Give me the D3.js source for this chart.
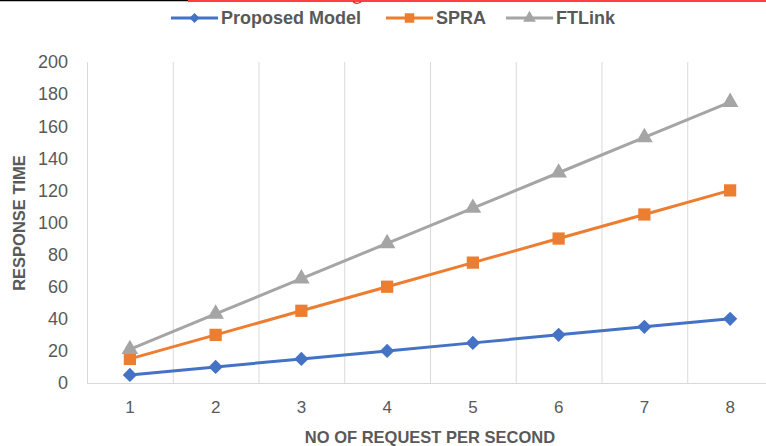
<!DOCTYPE html>
<html lang="en">
<head>
  <meta charset="UTF-8">
  <title>Response Time</title>
  <script src="https://d3js.org/d3.v7.min.js"></script>
  <style>
    html, body { margin: 0; padding: 0; background: #fff; }
    svg { display: block; font-family: "Liberation Sans", Arial, sans-serif; }
  </style>
</head>
<body>
  <svg width="766" height="446"></svg>
  <script>
    // chart values
    const categories = [1, 2, 3, 4, 5, 6, 7, 8];
    const proposedModel = [5, 10, 15, 20, 25, 30, 35, 40];
    const spra = [15, 30, 45, 60, 75, 90, 105, 120];
    const ftlink = [21, 43, 65, 87, 109, 131, 153, 175];
    const yTicks = [0, 20, 40, 60, 80, 100, 120, 140, 160, 180, 200];

    const diamond = d3.symbolDiamond2 || d3.symbolDiamond;
    const series = [
      { name: "Proposed Model", values: proposedModel, color: "#4472C4", marker: diamond, size: 130, legendSize: 65 },
      { name: "SPRA", values: spra, color: "#ED7D31", marker: d3.symbolSquare, size: 150, legendSize: 90 },
      { name: "FTLink", values: ftlink, color: "#A5A5A5", marker: d3.symbolTriangle, size: 120, legendSize: 70 }
    ];

    const svg = d3.select("svg");
    const textColor = "#595959";
    const gridColor = "#d9d9d9";

    // plot runs past the right edge of the picture, as in the original crop
    const x = d3.scaleBand().domain(categories).range([87, 773]).paddingInner(0).paddingOuter(0);
    const cx = d => x(d) + x.bandwidth() / 2;
    const y = d3.scaleLinear().domain([0, 200]).range([383, 62]);

    // page rules at top
    svg.append("line").attr("x1", 0).attr("x2", 188).attr("y1", 0.5).attr("y2", 0.5)
      .attr("stroke", "#000").attr("stroke-width", 1.5);
    svg.append("line").attr("x1", 188).attr("x2", 766).attr("y1", 1).attr("y2", 1)
      .attr("stroke", "#ff0000").attr("stroke-width", 1.6);
    svg.append("path").attr("d", "M353,1.5 Q356,5 361,2").attr("fill", "none")
      .attr("stroke", "#e02020").attr("stroke-width", 1.2);

    // vertical gridlines between categories
    svg.append("g").selectAll("line")
      .data(categories.slice(1))
      .enter().append("line")
      .attr("x1", d => x(d) + 0.5).attr("x2", d => x(d) + 0.5)
      .attr("y1", y(200)).attr("y2", y(0))
      .attr("stroke", gridColor).attr("stroke-width", 1);

    // axis lines
    svg.append("line").attr("x1", 87.5).attr("x2", 87.5).attr("y1", y(200)).attr("y2", y(0))
      .attr("stroke", gridColor);
    svg.append("line").attr("x1", 87).attr("x2", 773).attr("y1", y(0) + 0.5).attr("y2", y(0) + 0.5)
      .attr("stroke", gridColor);

    // y tick labels
    svg.append("g").selectAll("text")
      .data(yTicks)
      .enter().append("text")
      .attr("x", 68).attr("y", d => y(d))
      .attr("dy", "0.35em").attr("text-anchor", "end")
      .attr("font-size", 18).attr("fill", textColor)
      .text(d => d);

    // x tick labels
    svg.append("g").selectAll("text")
      .data(categories)
      .enter().append("text")
      .attr("x", cx).attr("y", 407)
      .attr("dy", "0.35em").attr("text-anchor", "middle")
      .attr("font-size", 17).attr("fill", textColor)
      .text(d => d);

    // axis titles
    svg.append("text")
      .attr("x", 430).attr("y", 437).attr("dy", "0.35em")
      .attr("text-anchor", "middle").attr("font-size", 16.5).attr("font-weight", "bold")
      .attr("fill", textColor)
      .text("NO OF REQUEST PER SECOND");
    svg.append("text")
      .attr("transform", "translate(19,223) rotate(-90)")
      .attr("dy", "0.35em")
      .attr("text-anchor", "middle").attr("font-size", 16.5).attr("font-weight", "bold")
      .attr("fill", textColor)
      .text("RESPONSE TIME");

    // series lines and markers
    const line = d3.line().x((v, i) => cx(categories[i])).y(v => y(v));
    series.forEach(s => {
      svg.append("path")
        .attr("d", line(s.values))
        .attr("fill", "none").attr("stroke", s.color)
        .attr("stroke-width", 3).attr("stroke-linejoin", "round");
      svg.append("g").selectAll("path")
        .data(s.values)
        .enter().append("path")
        .attr("transform", (v, i) => `translate(${cx(categories[i])},${y(v)})`)
        .attr("d", d3.symbol().type(s.marker).size(s.size))
        .attr("fill", s.color);
    });

    // legend
    const legendX = [171, 386, 506];
    const legend = svg.append("g").selectAll("g")
      .data(series)
      .enter().append("g")
      .attr("transform", (d, i) => `translate(${legendX[i]},18)`);
    legend.append("line").attr("x1", 0).attr("x2", 47).attr("y1", 0).attr("y2", 0)
      .attr("stroke", d => d.color).attr("stroke-width", 3);
    legend.append("path")
      .attr("transform", "translate(23.5,0)")
      .attr("d", d => d3.symbol().type(d.marker).size(d.legendSize)())
      .attr("fill", d => d.color);
    legend.append("text")
      .attr("x", 50).attr("y", 0).attr("dy", "0.35em")
      .attr("font-size", 18).attr("font-weight", "bold").attr("fill", textColor)
      .text(d => d.name);
  </script>
</body>
</html>
